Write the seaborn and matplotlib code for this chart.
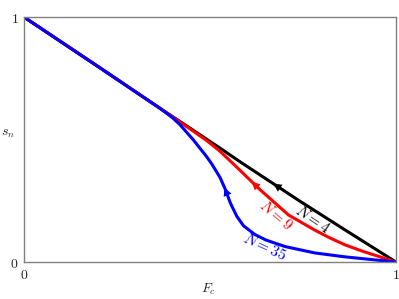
import numpy as np
import matplotlib
matplotlib.use("Agg")
import matplotlib.pyplot as plt
import seaborn as sns

# -----------------------------
# Data
# -----------------------------
fc_n4 = [0.0, 0.2, 0.366, 0.437, 0.509, 0.527, 0.581, 0.634, 0.742, 0.800, 0.863, 1.0]
sn_n4 = [1.0, 0.797, 0.627, 0.556, 0.483, 0.465, 0.409, 0.356, 0.248, 0.192, 0.131, 0.0]

fc_n9 = [0.0, 0.2, 0.366, 0.437, 0.490, 0.527, 0.572, 0.634, 0.711, 0.782, 0.820, 0.863, 0.910, 1.0]
sn_n9 = [1.0, 0.797, 0.627, 0.553, 0.497, 0.452, 0.387, 0.296, 0.192, 0.130, 0.100, 0.070, 0.044, 0.0]

fc_n35 = [0.0, 0.2, 0.366, 0.40, 0.419, 0.455, 0.491, 0.505, 0.527, 0.540, 0.555,
          0.572, 0.590, 0.621, 0.650, 0.702, 0.782, 0.863, 1.0]
sn_n35 = [1.0, 0.797, 0.627, 0.588, 0.561, 0.499, 0.430, 0.400, 0.345, 0.301, 0.240,
          0.187, 0.148, 0.112, 0.090, 0.063, 0.037, 0.021, 0.0]

labels = ["$N=4$", "$N=9$", "$N=35$"]
colors = ["black", "red", "blue"]

# -----------------------------
# Style
# -----------------------------
sns.set_style("white")
plt.rcParams["mathtext.fontset"] = "cm"
plt.rcParams["font.family"] = ["DejaVu Serif"]

fig = plt.figure(figsize=(3.99, 2.99), dpi=100)
ax = fig.add_axes([0.060, 0.1237, 0.9325, 0.8194])

series = [(fc_n4, sn_n4), (fc_n9, sn_n9), (fc_n35, sn_n35)]
arrow_at = [0.670, 0.612, 0.536]
label_pos = [(0.777, 0.172, -34), (0.677, 0.190, -40), (0.648, 0.063, -25)]

for (fc, sn), lab, col, a_x, (tx, ty, rot) in zip(series, labels, colors, arrow_at, label_pos):
    sns.lineplot(x=fc, y=sn, color=col, lw=2.2, ax=ax, sort=False,
                 solid_joinstyle="round", solid_capstyle="round")
    # arrow pointing back along the curve (towards smaller F_c)
    x_tail = a_x + 0.008
    ax.annotate(
        "",
        xy=(a_x, np.interp(a_x, fc, sn)),
        xytext=(x_tail, np.interp(x_tail, fc, sn)),
        arrowprops=dict(arrowstyle="-|>", color=col, lw=0, mutation_scale=15),
    )
    ax.text(tx, ty, lab, color=col, fontsize=11, rotation=rot,
            ha="center", va="center", rotation_mode="anchor")

ax.set_xlim(0, 1)
ax.set_ylim(0, 1)
ax.set_xticks([0, 1])
ax.set_yticks([0, 1])
ax.set_xticklabels(["$0$", "$1$"], fontsize=10)
ax.set_yticklabels(["$0$", "$1$"], fontsize=10)
ax.tick_params(length=0, pad=4)

ax.set_xlabel("$F_c$", fontsize=10, va="center")
ax.set_ylabel("$s_n$", fontsize=10, rotation=0, ha="center", va="center")
ax.xaxis.set_label_coords(0.495, -0.11)
ax.yaxis.set_label_coords(-0.043, 0.527)

for sp in ax.spines.values():
    sp.set_color("#808080")
    sp.set_linewidth(1.0)

plt.savefig("out.png", dpi=100)
plt.close()
